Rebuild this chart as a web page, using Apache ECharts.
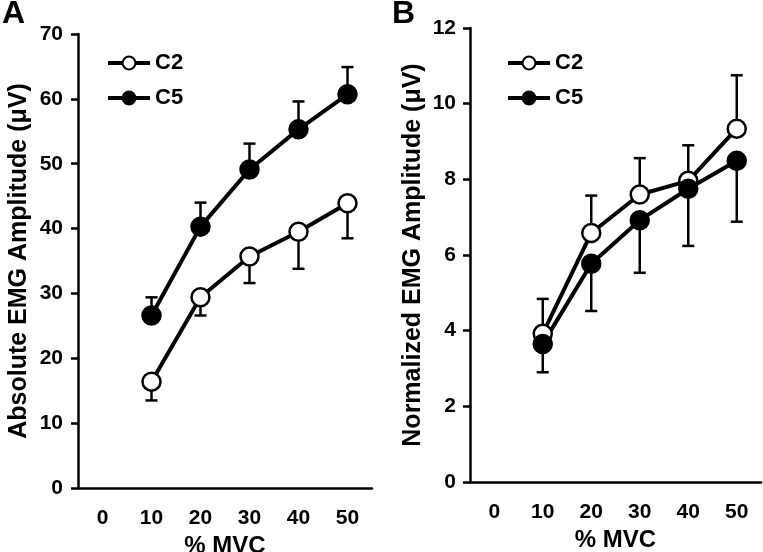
<!DOCTYPE html>
<html>
<head>
<meta charset="utf-8">
<script src="https://cdn.jsdelivr.net/npm/echarts@6/dist/echarts.min.js"></script>
<style>
  html, body { margin: 0; padding: 0; background: #fff; }
  #chart { width: 763px; height: 552px; }
</style>
</head>
<body>
<div id="chart"></div>
<script>
// ---- Data ----
const categories = ['0', '10', '20', '30', '40', '50'];
const mvc = ['10', '20', '30', '40', '50'];
// Panel A: Absolute EMG amplitude (µV)
const c2Abs = [16.4, 29.4, 35.7, 39.5, 43.9];
const c2AbsErr = [2.9, 2.8, 4.1, 5.7, 5.4];   // drawn downward
const c5Abs = [26.6, 40.3, 49.1, 55.3, 60.7];
const c5AbsErr = [2.8, 3.7, 4.0, 4.3, 4.2];   // drawn upward
// Panel B: Normalized EMG amplitude (µV)
const c2Norm = [3.92, 6.58, 7.6, 7.96, 9.34];
const c2NormErr = [0.92, 0.99, 0.96, 0.94, 1.41]; // upward
const c5Norm = [3.65, 5.77, 6.92, 7.75, 8.49];
const c5NormErr = [0.75, 1.25, 1.39, 1.51, 1.61]; // downward
const yTicksA = { min: 0, max: 70, interval: 10 };
const yTicksB = { min: 0, max: 12, interval: 2 };

const FONT = 'Liberation Sans, Arial, Helvetica, sans-serif';

function pts(vals) { return mvc.map((c, i) => [c, vals[i]]); }
function errData(vals, errs, dir) {
  return mvc.map((c, i) => [c, vals[i], vals[i] + dir * errs[i]]);
}
function errSeries(idx, vals, errs, dir) {
  return {
    type: 'custom',
    xAxisIndex: idx, yAxisIndex: idx,
    z: 1,
    silent: true,
    data: errData(vals, errs, dir),
    renderItem: function (params, api) {
      const p0 = api.coord([api.value(0), api.value(1)]);
      const p1 = api.coord([api.value(0), api.value(2)]);
      const hw = 6;
      return {
        type: 'group',
        children: [
          { type: 'line', shape: { x1: p0[0], y1: p0[1], x2: p1[0], y2: p1[1] },
            style: { stroke: '#000', lineWidth: 2.5 } },
          { type: 'line', shape: { x1: p1[0] - hw, y1: p1[1], x2: p1[0] + hw, y2: p1[1] },
            style: { stroke: '#000', lineWidth: 2.5 } }
        ]
      };
    }
  };
}
function lineSeries(name, idx, vals, fill) {
  return {
    name: name, type: 'line',
    xAxisIndex: idx, yAxisIndex: idx,
    z: 2,
    data: pts(vals),
    symbol: 'circle', symbolSize: 18,
    lineStyle: { color: '#000', width: 4 },
    itemStyle: { color: fill, borderColor: '#000', borderWidth: 2.5 },
    emphasis: { disabled: true },
    animation: false
  };
}
function xAxis(idx) {
  return {
    type: 'category', gridIndex: idx, data: categories, boundaryGap: true,
    axisLine: { lineStyle: { color: '#000', width: 2.5 } },
    axisTick: { length: 7, lineStyle: { color: '#000', width: 2.5 } },
    axisLabel: { color: '#000', fontSize: 21, fontWeight: 'bold', fontFamily: FONT, margin: 20 },
    name: '% MVC', nameLocation: 'middle', nameGap: 40,
    nameTextStyle: { color: '#000', fontSize: 24, fontWeight: 'bold', fontFamily: FONT },
    splitLine: { show: false }
  };
}
function yAxis(idx, t, name, gap, margin) {
  return {
    type: 'value', gridIndex: idx, min: t.min, max: t.max, interval: t.interval,
    axisLine: { show: true, lineStyle: { color: '#000', width: 2.5 } },
    axisTick: { show: true, length: 7, lineStyle: { color: '#000', width: 2.5 } },
    axisLabel: { color: '#000', fontSize: 21, fontWeight: 'bold', fontFamily: FONT, margin: margin },
    splitLine: { show: false },
    name: name, nameLocation: 'middle', nameGap: gap,
    nameTextStyle: { color: '#000', fontSize: 25, fontWeight: 'bold', fontFamily: FONT }
  };
}
function legend(left, top) {
  return {
    left: left, top: top, orient: 'vertical',
    itemWidth: 42, itemHeight: 16, itemGap: 13,
    data: ['C2', 'C5'],
    selectedMode: false,
    lineStyle: { width: 4, color: '#000' },
    textStyle: { color: '#000', fontSize: 22, fontWeight: 'bold', fontFamily: FONT }
  };
}

const chart = echarts.init(document.getElementById('chart'));
chart.setOption({
  animation: false,
  backgroundColor: '#fff',
  title: [
    { text: 'A', left: 2, top: -2, padding: 0,
      textStyle: { color: '#000', fontSize: 32, fontWeight: 'bold', fontFamily: FONT } },
    { text: 'B', left: 392, top: -2, padding: 0,
      textStyle: { color: '#000', fontSize: 32, fontWeight: 'bold', fontFamily: FONT } }
  ],
  legend: [legend(101, 47), legend(501, 47)],
  grid: [
    { left: 78, top: 34, width: 294, height: 454, containLabel: false, outerBoundsMode: 'none' },
    { left: 470, top: 28, width: 291, height: 454, containLabel: false, outerBoundsMode: 'none' }
  ],
  xAxis: [xAxis(0), xAxis(1)],
  yAxis: [
    yAxis(0, yTicksA, 'Absolute EMG Amplitude (μV)', 46, 15),
    yAxis(1, yTicksB, 'Normalized EMG Amplitude (μV)', 44, 14)
  ],
  series: [
    errSeries(0, c2Abs, c2AbsErr, -1),
    errSeries(0, c5Abs, c5AbsErr, 1),
    lineSeries('C2', 0, c2Abs, '#fff'),
    lineSeries('C5', 0, c5Abs, '#000'),
    errSeries(1, c2Norm, c2NormErr, 1),
    errSeries(1, c5Norm, c5NormErr, -1),
    lineSeries('C2', 1, c2Norm, '#fff'),
    lineSeries('C5', 1, c5Norm, '#000')
  ]
});
</script>
</body>
</html>
